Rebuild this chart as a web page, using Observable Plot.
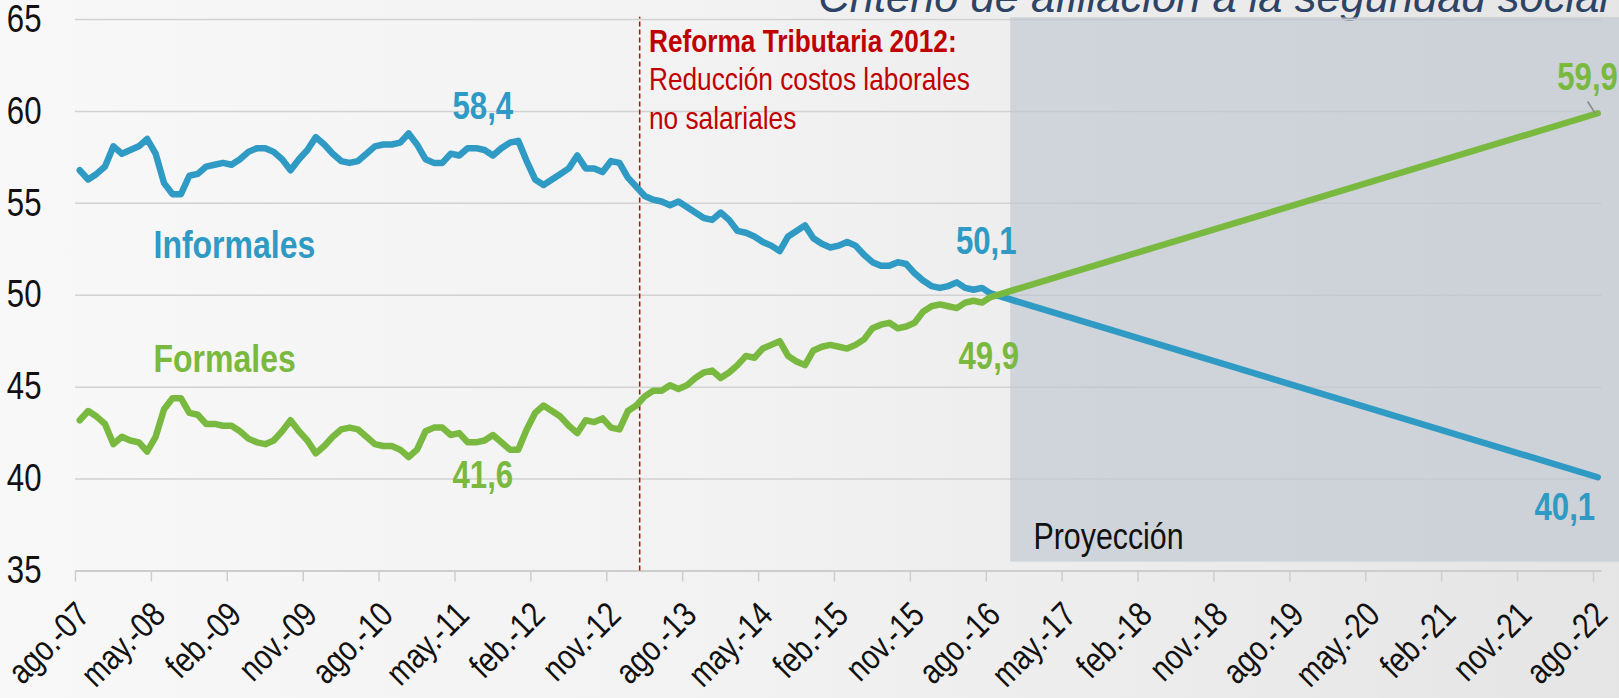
<!DOCTYPE html>
<html><head><meta charset="utf-8">
<script src="https://cdn.jsdelivr.net/npm/d3@7"></script>
<script src="https://cdn.jsdelivr.net/npm/@observablehq/plot@0.6"></script>
<style>
html,body{margin:0;padding:0;width:1619px;height:698px;overflow:hidden;}
body{background:linear-gradient(to right,#f8f8f8 0%,#f2f2f2 45%,#e5e5e5 100%);position:relative;}
#title{position:absolute;right:10px;top:-24px;font:italic 43.5px/43.5px "Liberation Sans",Arial,sans-serif;color:#2d4466;white-space:nowrap;}
#chart{position:absolute;left:0;top:0;}
</style></head><body>
<div id="title">Criterio de afiliación a la seguridad social</div>
<div id="chart"></div>
<script>
// Etiquetas del eje X (cada 9 meses, desde ago.-07 hasta ago.-22)
const etiquetasX = ["ago.-07","may.-08","feb.-09","nov.-09","ago.-10","may.-11","feb.-12","nov.-12","ago.-13","may.-14","feb.-15","nov.-15","ago.-16","may.-17","feb.-18","nov.-18","ago.-19","may.-20","feb.-21","nov.-21","ago.-22"];
const valoresY = [35, 40, 45, 50, 55, 60, 65];

// Serie mensual ago.-07 ... ago.-16 (% de ocupados)
const informales = [
  56.8, 56.3, 56.6, 57.0, 58.1, 57.7, 57.9, 58.1, 58.5, 57.7,
  56.1, 55.5, 55.5, 56.5, 56.6, 57.0, 57.1, 57.2, 57.1, 57.4,
  57.8, 58.0, 58.0, 57.8, 57.4, 56.8, 57.4, 57.9, 58.6, 58.2,
  57.7, 57.3, 57.2, 57.3, 57.7, 58.1, 58.2, 58.2, 58.3, 58.8,
  58.2, 57.4, 57.2, 57.2, 57.7, 57.6, 58.0, 58.0, 57.9, 57.6,
  58.0, 58.3, 58.4, 57.3, 56.3, 56.0, 56.3, 56.6, 56.9, 57.6,
  56.9, 56.9, 56.7, 57.3, 57.2, 56.4, 55.9, 55.4, 55.2, 55.1,
  54.9, 55.1, 54.8, 54.5, 54.2, 54.1, 54.5, 54.1, 53.5, 53.4,
  53.2, 52.9, 52.7, 52.4, 53.2, 53.5, 53.8, 53.1, 52.8, 52.6,
  52.7, 52.9, 52.7, 52.2, 51.8, 51.6, 51.6, 51.8, 51.7, 51.2,
  50.8, 50.5, 50.4, 50.5, 50.7, 50.4, 50.3, 50.4, 50.1
];
const formales = [
  43.2, 43.7, 43.4, 43.0, 41.9, 42.3, 42.1, 42.0, 41.5, 42.3,
  43.8, 44.4, 44.4, 43.6, 43.5, 43.0, 43.0, 42.9, 42.9, 42.6,
  42.2, 42.0, 41.9, 42.1, 42.6, 43.2, 42.6, 42.1, 41.4, 41.8,
  42.3, 42.7, 42.8, 42.7, 42.3, 41.9, 41.8, 41.8, 41.6, 41.2,
  41.6, 42.6, 42.8, 42.8, 42.4, 42.5, 42.0, 42.0, 42.1, 42.4,
  42.0, 41.6, 41.6, 42.7, 43.6, 44.0, 43.7, 43.4, 42.9, 42.5,
  43.2, 43.1, 43.3, 42.8, 42.7, 43.7, 44.0, 44.5, 44.8, 44.8,
  45.1, 44.9, 45.1, 45.5, 45.8, 45.9, 45.5, 45.8, 46.2, 46.7,
  46.6, 47.1, 47.3, 47.5, 46.7, 46.4, 46.2, 47.0, 47.2, 47.3,
  47.2, 47.1, 47.3, 47.6, 48.2, 48.4, 48.5, 48.2, 48.3, 48.5,
  49.1, 49.4, 49.5, 49.4, 49.3, 49.6, 49.7, 49.6, 49.9
];

// Proyección lineal: ago.-16 (mes 108) a ago.-22 (mes 180)
const mesesProyeccion = [108, 180];
const proyInformales = [50.1, 40.1];
const proyFormales = [49.9, 59.9];

// Mes (índice desde ago.-07) de la Reforma Tributaria y del inicio de la zona proyectada
const mesReforma = 66.4;
const inicioZonaProyeccion = 110.4;

const AZUL = "#2f9ac4", VERDE = "#7ab940", ROJO = "#c00000";
const FONT = '"Liberation Sans Narrow","Arial Narrow","Liberation Sans",Arial,sans-serif';

const serie = (vals, meses) => vals.map((v, i) => ({mes: meses ? meses[i] : i, valor: v}));
const tickMeses = etiquetasX.map((_, k) => k * 9 - 0.5);

const plot = Plot.plot({
  width: 1619, height: 698,
  marginTop: 19, marginBottom: 127.5, marginLeft: 75, marginRight: 17.6,
  style: {background: "transparent", fontFamily: FONT, overflow: "visible"},
  x: {domain: [-0.5, 180.5], axis: null},
  y: {domain: [35, 65], axis: null},
  marks: [
    Plot.ruleY(valoresY.filter(v => v > 35), {stroke: "#d2d2d2", strokeWidth: 1.5}),
    Plot.rect([0], {x1: inicioZonaProyeccion, x2: 182.6, y1: 35.48, y2: 65.1, fill: "#bcc3cf", fillOpacity: 0.6}),
    Plot.ruleY([35], {stroke: "#cdcdcd", strokeWidth: 2}),
    Plot.ruleX(tickMeses, {x: d => d, y: 35, y1: 35, y2: 35, stroke: "#cdcdcd", strokeWidth: 1.5, insetBottom: -11}),
    Plot.axisY(valoresY, {tickSize: 0, tickPadding: 34, fontSize: 38, fill: "#111", label: null, anchor: "left"}),
    Plot.text(tickMeses, {x: d => d, y: 35, text: (d, i) => etiquetasX[i], rotate: -45, textAnchor: "end", dx: 8, dy: 38, fontSize: 35, fill: "#111"}),
    Plot.ruleX([mesReforma], {y1: 35, y2: 65.12, stroke: ROJO, strokeWidth: 1.5, strokeDasharray: "5,3"}),
    Plot.line(serie(informales), {x: "mes", y: "valor", stroke: AZUL, strokeWidth: 6.5, strokeLinejoin: "round", strokeLinecap: "round"}),
    Plot.line(serie(formales), {x: "mes", y: "valor", stroke: VERDE, strokeWidth: 6.5, strokeLinejoin: "round", strokeLinecap: "round"}),
    Plot.line(serie(proyInformales, mesesProyeccion), {x: "mes", y: "valor", stroke: AZUL, strokeWidth: 6.5, strokeLinecap: "round"}),
    Plot.line(serie(proyFormales, mesesProyeccion), {x: "mes", y: "valor", stroke: VERDE, strokeWidth: 6.5, strokeLinecap: "round"}),
    Plot.link([0], {x1: 178.8, y1: 60.54, x2: 179.7, y2: 59.9, stroke: "#8a8a8a", strokeWidth: 1.5}),
    Plot.text(["Informales"], {x: 8.75, y: 52.05, text: d => d, textAnchor: "start", lineAnchor: "bottom", fontSize: 39, fontWeight: "bold", fill: AZUL}),
    Plot.text(["Formales"], {x: 8.75, y: 45.81, text: d => d, textAnchor: "start", lineAnchor: "bottom", fontSize: 39, fontWeight: "bold", fill: VERDE}),
    Plot.text(["58,4"], {x: 47.8, y: 59.61, text: d => d, lineAnchor: "bottom", fontSize: 38, fontWeight: "bold", fill: AZUL}),
    Plot.text(["41,6"], {x: 47.8, y: 39.54, text: d => d, lineAnchor: "bottom", fontSize: 38, fontWeight: "bold", fill: VERDE}),
    Plot.text(["50,1"], {x: 107.5, y: 52.27, text: d => d, lineAnchor: "bottom", fontSize: 38, fontWeight: "bold", fill: AZUL}),
    Plot.text(["49,9"], {x: 107.8, y: 46.01, text: d => d, lineAnchor: "bottom", fontSize: 38, fontWeight: "bold", fill: VERDE}),
    Plot.text(["59,9"], {x: 178.8, y: 61.19, text: d => d, lineAnchor: "bottom", fontSize: 38, fontWeight: "bold", fill: VERDE}),
    Plot.text(["40,1"], {x: 176.1, y: 37.75, text: d => d, lineAnchor: "bottom", fontSize: 38, fontWeight: "bold", fill: AZUL}),
    Plot.text(["Proyección"], {x: 113.1, y: 36.21, text: d => d, textAnchor: "start", lineAnchor: "bottom", fontSize: 37, fill: "#111"}),
    Plot.text(["Reforma Tributaria 2012:"], {x: 67.5, y: 63.22, text: d => d, textAnchor: "start", lineAnchor: "bottom", fontSize: 32, fontWeight: "bold", fill: ROJO}),
    Plot.text(["Reducción costos laborales"], {x: 67.5, y: 61.14, text: d => d, textAnchor: "start", lineAnchor: "bottom", fontSize: 32, fill: ROJO}),
    Plot.text(["no salariales"], {x: 67.5, y: 59.05, text: d => d, textAnchor: "start", lineAnchor: "bottom", fontSize: 32, fill: ROJO})
  ]
});
document.getElementById("chart").appendChild(plot);

// Simula una fuente estrecha (tipo Arial Narrow) comprimiendo horizontalmente los textos
plot.querySelectorAll("text").forEach(t => {
  const len = t.getComputedTextLength();
  if (len > 0) {
    t.setAttribute("textLength", (len * 0.82).toFixed(2));
    t.setAttribute("lengthAdjust", "spacingAndGlyphs");
  }
});
</script>
</body></html>
